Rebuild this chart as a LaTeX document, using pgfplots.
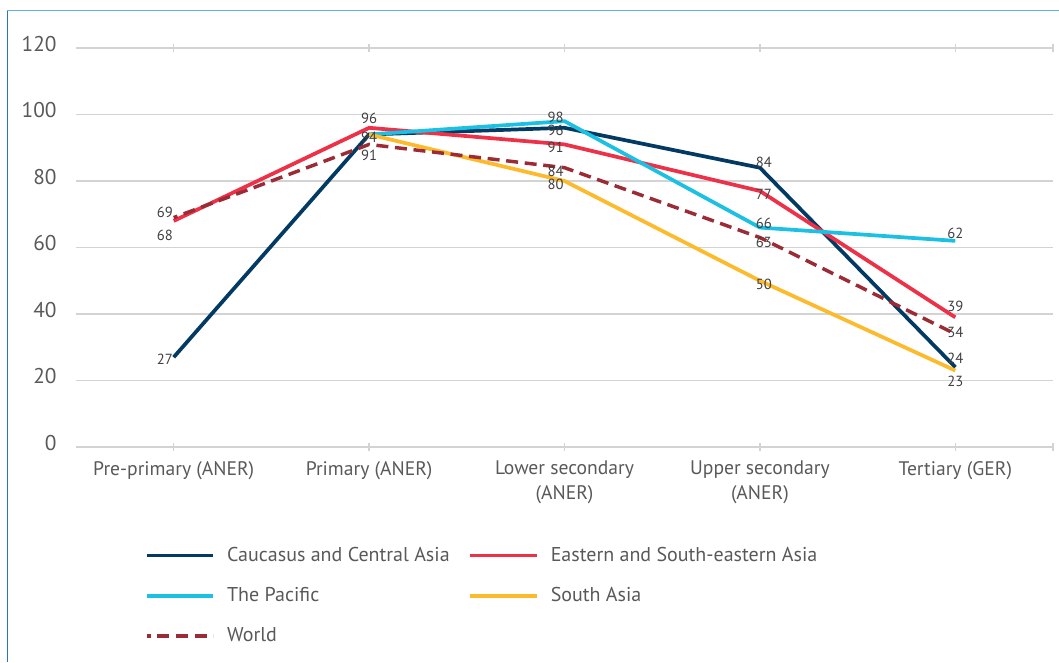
\documentclass[border=0pt]{standalone}
\usepackage{pgfplots}
\pgfplotsset{compat=1.18}
\usepackage{fontspec}
\setmainfont{PT Sans}
\definecolor{txt}{HTML}{595959}
\definecolor{lbl}{HTML}{404040}
\definecolor{gridc}{HTML}{D3D3D3}
\definecolor{cca}{HTML}{033A63}
\definecolor{esea}{HTML}{EC3148}
\definecolor{pac}{HTML}{1CC0E2}
\definecolor{sa}{HTML}{FDBA2C}
\definecolor{wld}{HTML}{9B2B34}
\definecolor{frameL}{HTML}{2478BC}
\definecolor{frameT}{HTML}{62B2E6}
\begin{document}
\begin{tikzpicture}
\useasboundingbox (0pt,0pt) rectangle (794.25pt,496.5pt);
\draw[frameL, line width=1.3pt] (5.6pt,0pt) -- (5.6pt,488.6pt);
\draw[frameT, line width=1.3pt] (5.3pt,488.6pt) -- (794.25pt,488.6pt);
\begin{axis}[
  at={(57pt,161.25pt)}, anchor=south west,
  scale only axis, width=732.75pt, height=299.25pt,
  xmin=-0.5, xmax=4.5, ymin=0, ymax=120,
  axis line style={draw=none},
  ytick={0,20,...,120},
  ymajorgrids, grid style={gridc, line width=1.1pt},
  ytick style={draw=none},
  yticklabel style={font=\fontsize{16}{18}\selectfont, text=txt, xshift=-8pt, yshift=3pt},
  /pgf/number format/assume math mode=true,
  xtick={0,1,2,3,4},
  extra x ticks={4.5}, extra x tick labels={},
  xticklabels={Pre-primary (ANER), Primary (ANER), Lower secondary\\(ANER), Upper secondary\\(ANER), Tertiary (GER)},
  xticklabel style={font=\fontsize{14.7}{18.5}\selectfont, text=txt, align=center, yshift=-4pt},
  tick align=center, major tick length=6pt,
  xtick style={gridc, line width=1pt},
  clip=false,
  legend columns=2,
  legend cell align=left,
  legend style={draw=none, fill=none, at={(0.066,-0.2375)}, anchor=north west,
    font=\fontsize{15}{18}\selectfont, text=txt, row sep=14pt,
    /tikz/every odd column/.append style={column sep=7pt},
    /tikz/every even column/.append style={column sep=12pt}},
  legend image code/.code={\draw[#1] (0pt,0pt) -- (50pt,0pt);},
]
\addplot[cca, line width=2.8pt] coordinates {(0,27) (1,94) (2,96) (3,84) (4,24)};
\addlegendentry{Caucasus and Central Asia}
\addplot[esea, line width=2.8pt] coordinates {(0,68) (1,96) (2,91) (3,77) (4,39)};
\addlegendentry{Eastern and South-eastern Asia}
\addplot[pac, line width=2.8pt] coordinates {(1,94) (2,98) (3,66) (4,62)};
\addlegendentry{The Pacific}
\addplot[sa, line width=2.8pt] coordinates {(1,94) (2,80) (3,50) (4,23)};
\addlegendentry{South Asia}
\addplot[wld, line width=2.6pt, dash pattern=on 9pt off 5pt, dash phase=6pt] coordinates {(0,69) (1,91) (2,84) (3,63) (4,34)};
\addlegendentry{World}
\begin{scope}[every node/.style={font=\fontsize{11}{12}\selectfont, text=lbl, inner sep=0pt}]
\node at (axis cs:-0.045,70.7) {69};
\node at (axis cs:-0.045,63.8) {68};
\node at (axis cs:-0.045,26.5) {27};
\node at (axis cs:1,98.9) {96};
\node at (axis cs:1,93.2) {94};
\node at (axis cs:1,87.8) {91};
\node at (axis cs:1.955,99.2) {98};
\node at (axis cs:1.955,95.3) {96};
\node at (axis cs:1.955,90.2) {91};
\node at (axis cs:1.955,83.0) {84};
\node at (axis cs:1.955,79.1) {80};
\node at (axis cs:3.02,85.7) {84};
\node at (axis cs:3.02,76.1) {77};
\node at (axis cs:3.02,67.4) {66};
\node at (axis cs:3.02,61.4) {63};
\node at (axis cs:3.02,49.0) {50};
\node at (axis cs:4,64.4) {62};
\node at (axis cs:4,42.4) {39};
\node at (axis cs:4,34.6) {34};
\node at (axis cs:4,26.8) {24};
\node at (axis cs:4,19.8) {23};
\end{scope}
\end{axis}
\end{tikzpicture}
\end{document}
